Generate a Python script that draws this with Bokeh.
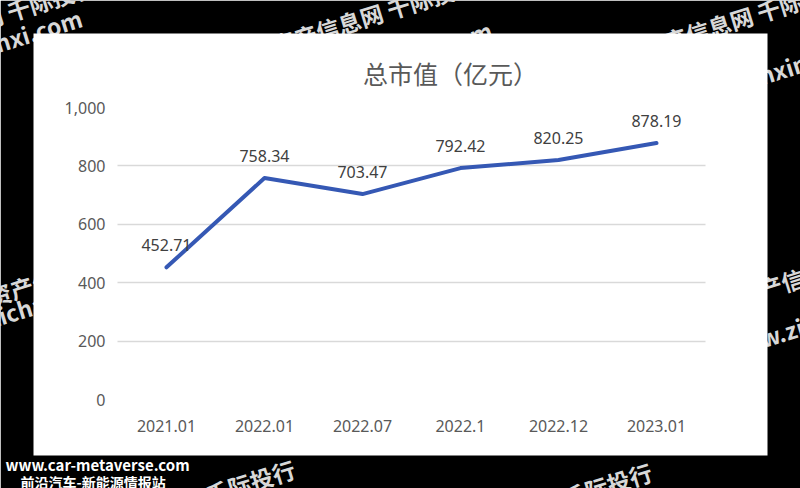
from bokeh.plotting import figure
from bokeh.models import ColumnDataSource, FactorRange, Range1d, LabelSet, FixedTicker, NumeralTickFormatter
from bokeh.embed import file_html
from bokeh.resources import INLINE
from bokeh.core.properties import value

categories = ["2021.01", "2022.01", "2022.07", "2022.1", "2022.12", "2023.01"]
market_cap = [452.71, 758.34, 703.47, 792.42, 820.25, 878.19]
labels = ["452.71", "758.34", "703.47", "792.42", "820.25", "878.19"]
y_ticks = [0, 200, 400, 600, 800, 1000]
title_text = "总市值（亿元）"
wm_cn = "资产信息网 千际投行"
wm_url = "www.zichanxinxi.com"
site_url = "www.car-metaverse.com"
site_name = "前沿汽车-新能源情报站"

W, H = 800, 488
FL, FR, FT, FB = 117, 705, 107, 399   # frame edges on the page
PX_X = (FR - FL) / len(categories)
PX_Y = (FB - FT) / 1000.0

def dx(X):  # page pixel -> categorical synthetic coordinate
    return (X - FL) / PX_X

def dy(Y):  # page pixel -> data y
    return (FB - Y) / PX_Y

p = figure(width=W, height=H, x_range=FactorRange(*categories), y_range=Range1d(0, 1000),
           output_backend="svg", toolbar_location=None,
           min_border_left=FL, min_border_right=W - FR, min_border_top=FT, min_border_bottom=H - FB)
p.border_fill_color = "black"
p.background_fill_color = "white"
p.outline_line_color = None

# watermark fragments (behind the white panel)
wm_pos = [
    (wm_cn, 272, 45), (wm_url, 253, 102), (wm_cn, 642, 48), (wm_url, 640, 112),
    (wm_url, -157, 90), (wm_cn, -108, 47), (wm_cn, -12, 297), (wm_url, -75, 338),
    (wm_cn, 737, 296), (wm_url, 722, 350), (wm_cn, 91, 530), (wm_cn, 448, 533),
]
wm = p.text(x=[dx(X) for _, X, _ in wm_pos], y=[dy(Y) for _, _, Y in wm_pos],
            text=[t for t, _, _ in wm_pos], angle=0.3, text_color="#d8d8d8",
            text_font=value("Noto Sans CJK SC"), text_font_style="bold", text_font_size="23px",
            text_baseline="alphabetic", text_align="left")
wm.level = "guide"

panel = p.quad(left=[dx(33)], right=[dx(767)], top=[dy(33)], bottom=[dy(455)],
               fill_color="white", line_color=None)
panel.level = "guide"

src = ColumnDataSource(dict(x=categories, y=market_cap, lab=labels))
r = p.line("x", "y", source=src, line_color="#3558b4", line_width=4, line_join="round", line_cap="round")
r.level = "overlay"

p.add_layout(LabelSet(x="x", y="y", text="lab", source=src, y_offset=22, text_align="center",
                      text_baseline="middle", text_font=value("Noto Sans"), text_font_size="16px",
                      text_color="#404040", level="overlay"))

t1 = p.text(x=[dx(450)], y=[dy(72)], text=[title_text], text_align="center", text_baseline="middle",
            text_font=value("Noto Sans CJK SC"), text_font_size="25px", text_color="#595959")
t1.level = "overlay"

t2 = p.text(x=[dx(5), dx(20)], y=[dy(464), dy(481)], text=[site_url, site_name],
            text_color="white", text_font=value("Noto Sans CJK SC"), text_font_style="bold",
            text_font_size=["15px", "14px"], text_baseline="alphabetic", text_align="left")
t2.level = "overlay"

p.xgrid.grid_line_color = None
p.ygrid.grid_line_color = "#d9d9d9"
p.ygrid.grid_line_width = 1.5
p.ygrid.level = "annotation"
p.yaxis.ticker = FixedTicker(ticks=y_ticks)
p.yaxis.formatter = NumeralTickFormatter(format="0,0")

for ax in (p.xaxis[0], p.yaxis[0]):
    ax.level = "annotation"
    ax.axis_line_color = None
    ax.major_tick_line_color = None
    ax.minor_tick_line_color = None
    ax.major_label_text_font = "Noto Sans"
    ax.major_label_text_font_size = "16px"
    ax.major_label_text_color = "#595959"
p.yaxis.major_label_standoff = 6
p.xaxis.major_label_standoff = 14

open("out.html", "w").write(file_html(p, INLINE))
